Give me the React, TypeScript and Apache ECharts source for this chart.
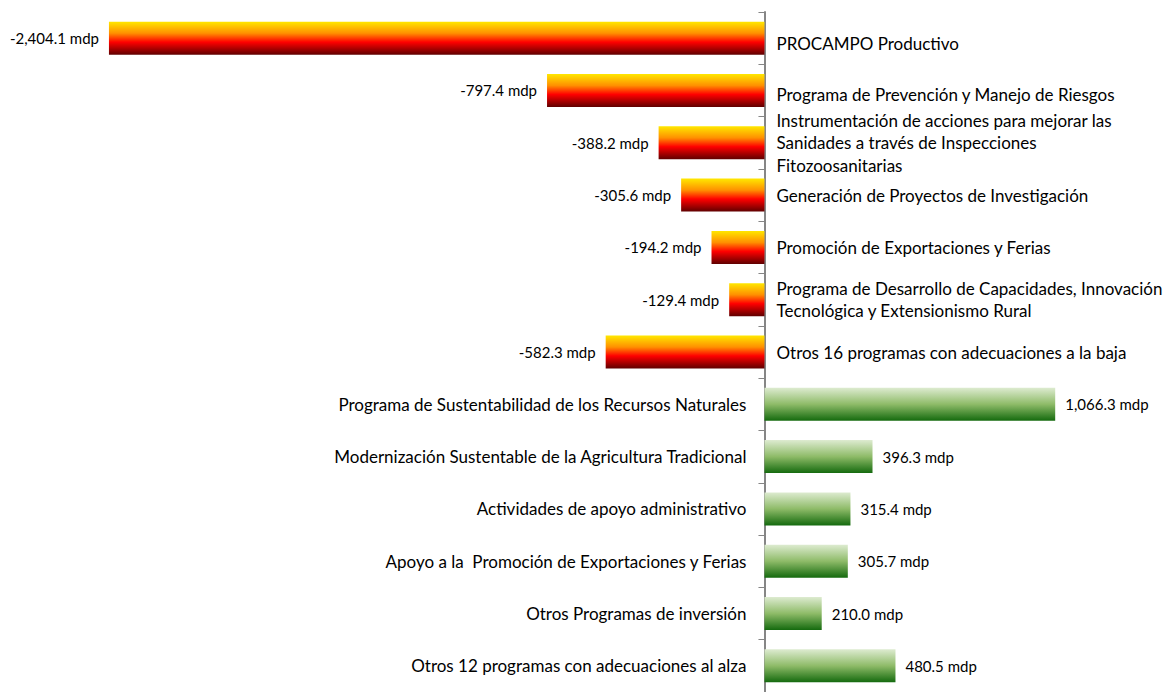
import React, { useEffect, useRef } from "react";
import * as echarts from "echarts";

const categories = [
  "PROCAMPO Productivo",
  "Programa de Prevención y Manejo de Riesgos",
  "Instrumentación de acciones para mejorar las\nSanidades a través de Inspecciones\nFitozoosanitarias",
  "Generación de Proyectos de Investigación",
  "Promoción de Exportaciones y Ferias",
  "Programa de Desarrollo de Capacidades, Innovación\nTecnológica y Extensionismo Rural",
  "Otros 16 programas con adecuaciones a la baja",
  "Programa de Sustentabilidad de los Recursos Naturales",
  "Modernización Sustentable de la Agricultura Tradicional",
  "Actividades de apoyo administrativo",
  "Apoyo a la  Promoción de Exportaciones y Ferias",
  "Otros Programas de inversión",
  "Otros 12 programas con adecuaciones al alza",
];

const values = [
  -2404.1, -797.4, -388.2, -305.6, -194.2, -129.4, -582.3,
  1066.3, 396.3, 315.4, 305.7, 210.0, 480.5,
];

const FONT = "Lato";

const negGradient = new echarts.graphic.LinearGradient(0, 0, 0, 1, [
  { offset: 0, color: "#FFE800" },
  { offset: 0.35, color: "#FF9000" },
  { offset: 0.62, color: "#FF0000" },
  { offset: 1, color: "#600000" },
]);
const posGradient = new echarts.graphic.LinearGradient(0, 0, 0, 1, [
  { offset: 0, color: "#DDEBD0" },
  { offset: 0.5, color: "#8EBB68" },
  { offset: 1, color: "#146A0E" },
]);

function fmt(v: number): string {
  const s = Math.abs(v).toLocaleString("en-US", {
    minimumFractionDigits: 1,
    maximumFractionDigits: 1,
  });
  return (v < 0 ? "-" : "") + s + " mdp";
}

export default function App() {
  const ref = useRef<HTMLDivElement>(null);
  useEffect(() => {
    if (!ref.current) return;
    const chart = echarts.init(ref.current, undefined, { renderer: "svg" });
    chart.setOption({
      animation: false,
      backgroundColor: "#ffffff",
      grid: { left: 1, right: 0, top: 12, bottom: -2, containLabel: false },
      xAxis: {
        type: "value",
        min: -2800,
        max: 1480,
        show: false,
        splitLine: { show: false },
      },
      yAxis: {
        type: "category",
        inverse: true,
        data: categories,
        axisLine: { show: true, onZero: true, lineStyle: { color: "#868686", width: 2 } },
        axisTick: { show: true, length: 6, lineStyle: { color: "#868686", width: 1 } },
        axisLabel: { show: false },
        splitLine: { show: false },
      },
      series: [
        {
          type: "bar",
          barWidth: 33,
          barGap: "-100%",
          data: values.map((v) => ({
            value: v,
            itemStyle: { color: v < 0 ? negGradient : posGradient },
            label: {
              show: true,
              position: v < 0 ? "left" : "right",
              distance: 10,
              formatter: () => fmt(v),
              fontFamily: FONT,
              fontSize: 15,
              color: "#000",
            },
          })),
          z: 2,
        },
        {
          type: "bar",
          barWidth: 33,
          barGap: "-100%",
          silent: true,
          itemStyle: { color: "transparent" },
          data: values.map((v, i) => ({
            value: 0,
            label: {
              show: true,
              position: v < 0 ? "right" : "left",
              distance: v < 0 ? 12 : 18,
              formatter: () => categories[i],
              fontFamily: FONT,
              fontSize: 17,
              lineHeight: 22.5,
              color: "#000",
              align: v < 0 ? "left" : "right",
              offset: i === 0 ? [0, 5] : i === 1 ? [0, 4] : [0, 0],
            },
          })),
          z: 3,
        },
      ],
    });
    return () => chart.dispose();
  }, []);
  return (
    <div
      ref={ref}
      style={{ position: "fixed", left: 0, top: 0, width: 1168, height: 692 }}
    />
  );
}
